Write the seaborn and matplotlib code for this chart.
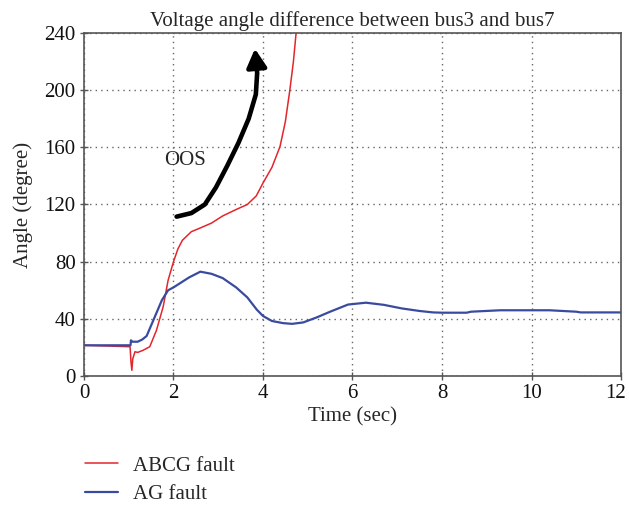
import matplotlib
matplotlib.use("Agg")
import matplotlib.pyplot as plt
import matplotlib.transforms as mtransforms
from matplotlib.patches import FancyArrowPatch
from matplotlib.path import Path
import seaborn as sns
import pandas as pd

# AG fault: angle difference bus3-bus7 (degrees) over time (s)
ag_time = [0, 1.04, 1.05, 1.08, 1.2, 1.3, 1.4, 1.55, 1.74, 1.88, 2.0, 2.15, 2.35,
           2.6, 2.85, 3.1, 3.4, 3.65, 3.86, 4.0, 4.2, 4.45, 4.65, 4.9, 5.2, 5.5,
           5.9, 6.3, 6.7, 7.1, 7.5, 7.8, 8.0, 8.55, 8.65, 9.3, 10.4, 11.0, 11.1, 12.0]
ag_angle = [21.5, 21.5, 25, 24, 24, 25.5, 28, 39, 53, 60, 62, 65, 69,
            73, 71.5, 68.5, 62, 55, 46.5, 42, 38.5, 37, 36.5, 37.5, 41, 45,
            50, 51.3, 49.8, 47.3, 45.5, 44.5, 44.3, 44.3, 45, 46, 46, 45, 44.5, 44.5]

# ABCG fault: angle difference bus3-bus7 (degrees) over time (s)
abcg_time = [0, 1.03, 1.05, 1.07, 1.09, 1.14, 1.2, 1.32, 1.47, 1.62, 1.77, 1.88,
             2.0, 2.1, 2.2, 2.4, 2.6, 2.85, 3.1, 3.4, 3.65, 3.85, 4.0, 4.2, 4.38,
             4.5, 4.6, 4.68, 4.74, 4.8]
abcg_angle = [21.5, 20.5, 10, 4, 12, 17, 16.5, 18, 20.5, 32, 48.5, 67,
              80, 89, 95, 101, 103.6, 107, 112, 116.5, 120, 126, 135, 146, 160.5,
              178, 200, 220, 240, 262]

x_ticks = [0, 2, 4, 6, 8, 10, 12]
y_ticks = [0, 40, 80, 120, 160, 200, 240]

df_ag = pd.DataFrame({"Time": ag_time, "Angle": ag_angle})
df_abcg = pd.DataFrame({"Time": abcg_time, "Angle": abcg_angle})

sns.set_style("white")
plt.rcParams["font.family"] = ["Liberation Serif", "DejaVu Serif"]
FS = 15

fig = plt.figure(figsize=(6.29, 5.05), dpi=100)
ax = fig.add_axes([0.1335, 0.2554, 0.8538, 0.6793])

sns.lineplot(data=df_abcg, x="Time", y="Angle", ax=ax, color="#e2262b",
             linewidth=1.1, label="ABCG fault", sort=False)
sns.lineplot(data=df_ag, x="Time", y="Angle", ax=ax, color="#3a4b9f",
             linewidth=1.6, label="AG fault", sort=False)

ax.set_xlim(0, 12)
ax.set_ylim(0, 240)
ax.set_xticks(x_ticks)
ax.set_yticks(y_ticks)
ax.grid(True, linestyle=(0, (1, 3)), color="#666666", linewidth=1.0)
ax.set_axisbelow(True)
for s in ax.spines.values():
    s.set_color("#555555")
    s.set_linewidth(1.2)
ax.tick_params(axis="both", direction="inout", length=6, width=1.0,
               color="#555555", labelsize=FS, labelcolor="#111111", pad=3)
ax.tick_params(axis="both", which="both", bottom=True, left=True)

# nudge the last x tick label inward so it stays inside the canvas
last_label = ax.get_xticklabels()[-1]
last_label.set_transform(last_label.get_transform() +
                         mtransforms.ScaledTranslation(-4 / 72, 0, fig.dpi_scale_trans))

ax.set_xlabel("Time (sec)", fontsize=FS, labelpad=3)
ax.set_ylabel("Angle (degree)", fontsize=FS, labelpad=8)
ax.set_title("Voltage angle difference between bus3 and bus7", fontsize=FS, pad=5)

# out-of-step trend arrow
arrow_pts = [(2.07, 111.5), (2.4, 114), (2.7, 120), (2.95, 132), (3.2, 147),
             (3.45, 163), (3.68, 180), (3.84, 197), (3.87, 212), (3.82, 229)]
arrow = FancyArrowPatch(path=Path(arrow_pts), arrowstyle="-|>,head_length=1.1,head_width=0.6",
                        mutation_scale=10, color="black", linewidth=3.3,
                        joinstyle="round", capstyle="round")
ax.add_patch(arrow)
ax.text(2.26, 151, "OOS", fontsize=FS, ha="center", va="center")

ax.legend(loc="upper left", bbox_to_anchor=(0.135, 0.097),
          bbox_transform=fig.transFigure, frameon=False, fontsize=FS,
          handlelength=1.6, handletextpad=0.7, labelspacing=0.42,
          borderpad=0, borderaxespad=0)

fig.savefig("out.png", dpi=100)
